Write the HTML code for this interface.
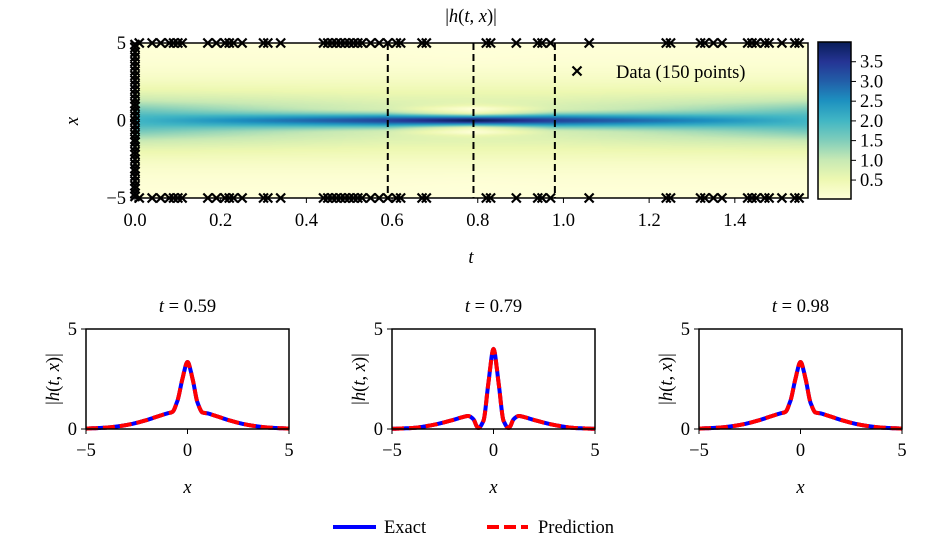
<!DOCTYPE html>
<html><head><meta charset="utf-8"><style>
body{margin:0;background:#fff;}
#wrap{position:relative;width:942px;height:543px;overflow:hidden;font-family:"Liberation Serif",serif;}
canvas{position:absolute;}
svg{position:absolute;left:0;top:0;}
text{font-family:"Liberation Serif",serif;font-size:18.5px;fill:#000;}
.it{font-style:italic;}
</style></head><body>
<div id="wrap">
<canvas id="heat" width="673" height="155" style="left:135px;top:43px;width:673px;height:155px"></canvas>
<svg id="svg" width="942" height="543"></svg>
</div>
<script>
// ---- data ----
const xs = [-5,-4,-3,-2,-1.5,-1.25,-1,-0.75,-0.5,-0.25,0,0.25,0.5,0.75,1,1.25,1.5,2,3,4,5];
const prof0   = [0.03,0.07,0.2,0.53,0.85,1.06,1.3,1.54,1.77,1.94,2.0,1.94,1.77,1.54,1.3,1.06,0.85,0.53,0.2,0.07,0.03];
const prof059 = [0.02,0.07,0.2,0.45,0.62,0.7,0.78,0.85,1.4,2.5,3.35,2.5,1.3,0.82,0.78,0.7,0.62,0.45,0.2,0.07,0.02];
const prof079 = [0.01,0.05,0.2,0.45,0.6,0.65,0.5,0.05,0.4,2.3,4.0,2.3,0.4,0.05,0.5,0.65,0.6,0.45,0.2,0.05,0.01];
const prof098 = [0.02,0.07,0.2,0.45,0.62,0.7,0.78,0.85,1.4,2.5,3.35,2.5,1.3,0.82,0.78,0.7,0.62,0.45,0.2,0.07,0.02];
const keyT = [0, 0.59, 0.79, 0.98, 1.5708];
const keyProfiles = [prof0, prof059, prof079, prof098, prof0];
const sliceTimes = [0.59, 0.79, 0.98];
const sliceLabels = ["0.59","0.79","0.98"];
const dataT = [0.01,0.04,0.06,0.08,0.09,0.10,0.11,0.17,0.19,0.21,0.22,0.23,0.25,0.30,0.31,0.34,0.44,0.45,0.46,0.47,0.48,0.49,0.50,0.51,0.52,0.53,0.55,0.57,0.59,0.61,0.62,0.67,0.68,0.82,0.83,0.89,0.94,0.95,0.97,1.06,1.24,1.25,1.32,1.33,1.35,1.37,1.43,1.44,1.45,1.47,1.48,1.51,1.54,1.55];
const dataX0 = [-4.9,-4.7,-4.4,-4.2,-3.9,-3.6,-3.3,-3.1,-2.8,-2.5,-2.2,-2.0,-1.7,-1.4,-1.2,-0.9,-0.6,-0.3,0.0,0.3,0.6,0.9,1.1,1.4,1.7,2.0,2.3,2.6,2.9,3.2,3.5,3.8,4.1,4.4,4.7,4.9];
const heatTicks = [0,0.2,0.4,0.6,0.8,1.0,1.2,1.4];
const cbTicks = [0.5,1.0,1.5,2.0,2.5,3.0,3.5];
const vmin=0.02, vmax=4.0;

// ---- monotone cubic interpolation ----
function slopes(p){
  const n=xs.length,d=[],m=[];
  for(let i=0;i<n-1;i++)d.push((p[i+1]-p[i])/(xs[i+1]-xs[i]));
  m[0]=d[0];m[n-1]=d[n-2];
  for(let i=1;i<n-1;i++){ if(d[i-1]*d[i]<=0)m[i]=0; else m[i]=2/(1/d[i-1]+1/d[i]); }
  return m;
}
const slopeCache=new Map();
function interpProf(p,x){
  if(!slopeCache.has(p))slopeCache.set(p,slopes(p));
  const m=slopeCache.get(p);
  if(x<=xs[0])return p[0]; if(x>=xs[xs.length-1])return p[p.length-1];
  for(let i=0;i<xs.length-1;i++){ if(x<=xs[i+1]){
    const h=xs[i+1]-xs[i],s=(x-xs[i])/h,s2=s*s,s3=s2*s;
    return (2*s3-3*s2+1)*p[i]+(s3-2*s2+s)*h*m[i]+(-2*s3+3*s2)*p[i+1]+(s3-s2)*h*m[i+1];
  } }
}
function field(t,x){
  for(let k=0;k<keyT.length-1;k++){ if(t<=keyT[k+1]){const f=(t-keyT[k])/(keyT[k+1]-keyT[k]);return interpProf(keyProfiles[k],x)*(1-f)+interpProf(keyProfiles[k+1],x)*f;} }
  return interpProf(prof0,x);
}
const cmap=[[255,255,217],[237,248,177],[199,233,180],[127,205,187],[65,182,196],[29,145,192],[34,94,168],[37,52,148],[8,29,88]];
function col(v){let f=Math.max(0,Math.min(1,(v-vmin)/(vmax-vmin)))*8;const i=Math.min(7,Math.floor(f));const r=f-i;return cmap[i].map((c,j)=>Math.round(c+(cmap[i+1][j]-c)*r));}

const HX0=135,HX1=808,HY0=43,HY1=198,TMAX=1.5708;
const tx=t=>HX0+(t/TMAX)*(HX1-HX0);
const hy=x=>HY0+(5-x)/10*(HY1-HY0);
const cv=document.getElementById('heat'),ctx=cv.getContext('2d');
const img=ctx.createImageData(673,155);
for(let j=0;j<155;j++){const x=5-(j+0.5)/155*10;for(let i=0;i<673;i++){const t=(i+0.5)/673*TMAX;const c=col(field(t,x));const o=(j*673+i)*4;img.data[o]=c[0];img.data[o+1]=c[1];img.data[o+2]=c[2];img.data[o+3]=255;}}
ctx.putImageData(img,0,0);

const svg=document.getElementById('svg');const NS='http://www.w3.org/2000/svg';
function el(tag,attrs,parent,txt){const e=document.createElementNS(NS,tag);for(const k in attrs)e.setAttribute(k,attrs[k]);if(txt!==undefined)e.textContent=txt;(parent||svg).appendChild(e);return e;}

const defs=el('defs',{});const g=el('linearGradient',{id:'cb',x1:0,y1:1,x2:0,y2:0},defs);
for(let i=0;i<=8;i++)el('stop',{offset:i/8,'stop-color':'rgb('+cmap[i].join(',')+')'},g);

let hg=el('g',{});
sliceTimes.forEach(t=>{const l=el('line',{x1:tx(t),x2:tx(t),y1:HY0,y2:HY1,stroke:'#000','stroke-width':2,'stroke-dasharray':'7,4'},hg);});
el('rect',{x:HX0,y:HY0,width:HX1-HX0,height:HY1-HY0,fill:'none',stroke:'#000','stroke-width':1.5},hg);
heatTicks.forEach(t=>{el('line',{x1:tx(t),x2:tx(t),y1:HY1,y2:HY1+5,stroke:'#000'},hg);const tt=el('text',{x:tx(t),y:HY1+28,'text-anchor':'middle'},hg,t.toFixed(1));});
[[5,'5'],[0,'0'],[-5,'\u22125']].forEach(([v,s])=>{el('line',{x1:HX0-5,x2:HX0,y1:hy(v),y2:hy(v),stroke:'#000'},hg);el('text',{x:HX0-9,y:hy(v)+6,'text-anchor':'end'},hg,s);});
let tl=el('text',{x:471,y:263,'text-anchor':'middle',class:'it'},svg,'t');
let yl=el('text',{x:78,y:121,'text-anchor':'middle',class:'it',transform:'rotate(-90 78 121)'},svg,'x');
let ttl=el('text',{x:471,y:22,'text-anchor':'middle'},svg);
ttl.innerHTML='|<tspan font-style="italic">h</tspan>(<tspan font-style="italic">t</tspan>, <tspan font-style="italic">x</tspan>)|';

function cross(cx,cy,p){el('path',{d:`M${cx-4.5},${cy-4.5}L${cx+4.5},${cy+4.5}M${cx-4.5},${cy+4.5}L${cx+4.5},${cy-4.5}`,stroke:'#000','stroke-width':2.2},p);}
let mg=el('g',{});
dataT.forEach(t=>{cross(tx(t),hy(5),mg);cross(tx(t),hy(-5),mg);});
dataX0.forEach(x=>cross(tx(0),hy(x),mg));
cross(577,71,mg);
let lt=el('text',{x:616,y:78},svg,'Data (150 points)');

const CX=818,CW=33,CY0=42,CY1=199;
const cy=v=>CY1-(v-vmin)/(vmax-vmin)*(CY1-CY0);
let cb=el('rect',{x:CX,y:CY0,width:CW,height:CY1-CY0,fill:'url(#cb)',stroke:'#000','stroke-width':1.5});
cbTicks.forEach(v=>{el('line',{x1:CX+CW,x2:CX+CW+5,y1:cy(v),y2:cy(v),stroke:'#000'});el('text',{x:CX+CW+9,y:cy(v)+6},svg,v.toFixed(1));});

const SX=[86,392,699],SW=203,SY0=329,SY1=429;
const profs=[prof059,prof079,prof098];
profs.forEach((p,k)=>{
  const x0=SX[k];const px=x=>x0+(x+5)/10*SW;const py=v=>SY1-v/5*(SY1-SY0);
  let sg=el('g',{});
  let d='';for(let i=0;i<=400;i++){const x=-5+i*0.025;d+=(i?'L':'M')+px(x).toFixed(1)+','+py(Math.max(0,interpProf(p,x))).toFixed(1);}
  let e=el('path',{d:d,fill:'none',stroke:'#0000ff','stroke-width':4,'stroke-linejoin':'round'},sg);
  let pr=el('path',{d:d,fill:'none',stroke:'#ff0000','stroke-width':4,'stroke-dasharray':'12,5','stroke-linejoin':'round'},sg);
  el('rect',{x:x0,y:SY0,width:SW,height:SY1-SY0,fill:'none',stroke:'#000','stroke-width':1.5},sg);
  [[-5,'\u22125'],[0,'0'],[5,'5']].forEach(([v,s])=>{el('line',{x1:px(v),x2:px(v),y1:SY1,y2:SY1+5,stroke:'#000'},sg);el('text',{x:px(v),y:SY1+27,'text-anchor':'middle'},sg,s);});
  [[0,'0'],[5,'5']].forEach(([v,s])=>{el('line',{x1:x0-5,x2:x0,y1:py(v),y2:py(v),stroke:'#000'},sg);el('text',{x:x0-9,y:py(v)+6,'text-anchor':'end'},sg,s);});
  el('text',{x:x0+SW/2,y:SY1+64,'text-anchor':'middle',class:'it'},sg,'x');
  let st=el('text',{x:x0+SW/2,y:SY0-17,'text-anchor':'middle'},sg);st.innerHTML='<tspan font-style="italic">t</tspan> = '+sliceLabels[k];
  let yt=el('text',{x:x0-27,y:379,'text-anchor':'middle',transform:`rotate(-90 ${x0-27} 379)`},sg);yt.innerHTML='|<tspan font-style="italic">h</tspan>(<tspan font-style="italic">t</tspan>, <tspan font-style="italic">x</tspan>)|';
});

let lg=el('g',{});
el('line',{x1:333,x2:376,y1:527,y2:527,stroke:'#0000ff','stroke-width':4},lg);
el('text',{x:384,y:533},lg,'Exact');
el('line',{x1:487,x2:528,y1:527,y2:527,stroke:'#ff0000','stroke-width':4,'stroke-dasharray':'12,5'},lg);
el('text',{x:538,y:533},lg,'Prediction');
</script>
</body></html>
